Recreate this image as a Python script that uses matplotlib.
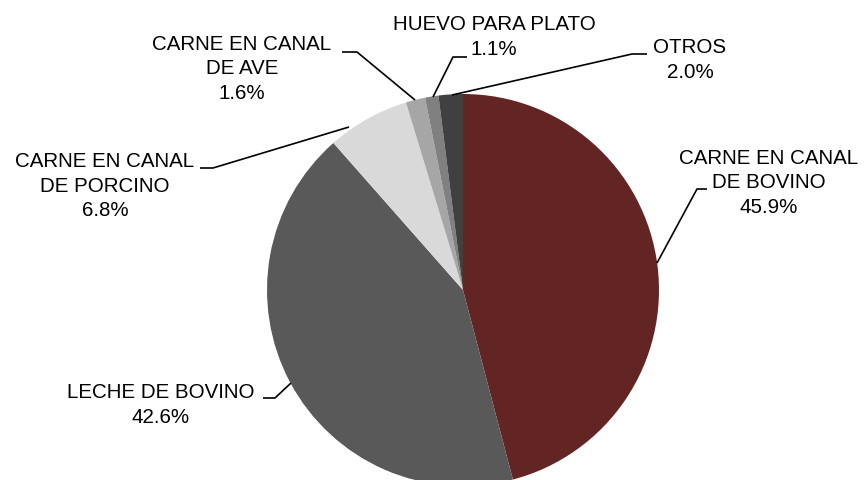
import matplotlib.pyplot as plt

# Data
labels = ['CARNE EN CANAL\nDE BOVINO', 'LECHE DE BOVINO', 'CARNE EN CANAL\nDE PORCINO',
          'CARNE EN CANAL\nDE AVE', 'HUEVO PARA PLATO', 'OTROS']
shares = [45.9, 42.6, 6.8, 1.6, 1.1, 2.0]
colors = ['#632523', '#595959', '#d9d9d9', '#a6a6a6', '#808080', '#404040']

# Label layout (pixel coords, y down): text centre, stub start, stub end, point on pie
text_pos = [(769, 183), (161, 405), (105, 186), (242, 69), (494, 37), (690, 60)]
stub_out = [(707, 189), (263, 398), (200, 168), (342, 52), (467, 57), (647, 54)]
stub_in = [(697, 189), (275, 398), (213, 168), (357, 52), (453, 57), (632, 54)]
pie_pt = [(657, 263), (291, 383), (349, 127), (415, 100), (433, 97), (452, 95)]

fig = plt.figure(figsize=(8.66, 4.8), dpi=100)
ax = fig.add_axes([0, 0, 1, 1])

# y axis runs downward, so counterclock=True draws clockwise on screen
ax.pie(shares, colors=colors, startangle=-90, counterclock=True,
       center=(463, 290), radius=196, wedgeprops=dict(linewidth=0))

for lab, val, tp, so, si, pp in zip(labels, shares, text_pos, stub_out, stub_in, pie_pt):
    ax.text(tp[0], tp[1], f'{lab}\n{val:.1f}%', ha='center', va='center',
            fontsize=14.8, family='Liberation Sans', linespacing=1.38, color='#000000')
    ax.plot([so[0], si[0], pp[0]], [so[1], si[1], pp[1]], color='black', lw=1.2,
            solid_capstyle='butt')

ax.set_xlim(0, 866)
ax.set_ylim(480, 0)
ax.set_aspect('equal')
ax.axis('off')

plt.savefig('out.png', dpi=100)
